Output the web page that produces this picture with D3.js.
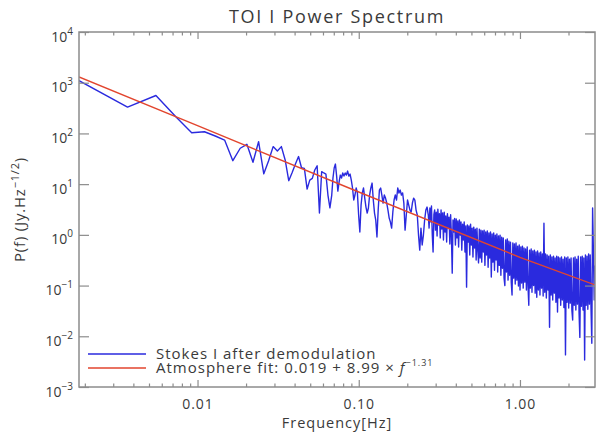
<!DOCTYPE html>
<html>
<head>
<meta charset="utf-8">
<script src="https://cdn.jsdelivr.net/npm/d3@7"></script>
<style>
  body { margin: 0; background: #fff; }
  svg text { font-family: "Open Sans", "DejaVu Sans", sans-serif; fill: #3a3a3a; }
</style>
</head>
<body>
<svg id="chart" width="596" height="433"></svg>
<script>
const width = 596
const height = 433
const margin = {top: 32, right: 1, bottom: 46, left: 79}

// frequency bins of the spectrum (Hz)
const binWidth = 0.00184
const freqMin = 0.00184
const freqMax = 2.92

// low frequency bins, one value per bin (k = 1..36)
const lowPower = [1100, 330, 560, 210, 103, 108, 89, 74, 29, 51, 61, 27, 69, 16, 29, 55, 45, 55,
  30, 11.7, 17, 25, 35, 21, 20.5, 8, 12, 13, 19, 23, 2.7, 17.6, 16.6, 15.8, 6.1, 3.4]

// middle part, read along a log spaced grid from 0.068 to 0.27 Hz
const midRange = [0.068, 0.27]
const midPower = [6.1, 13.2, 20.8, 24.9, 14.4, 7.3, 11, 15.1, 13.2, 16.6, 14.4, 16.6, 15.1, 18.1, 14.4, 15.8,
  12, 8.4, 4.86, 6.1, 8.4, 6.7, 2.46, 1.14, 3.87, 6.7, 8.4, 5.3, 3.53, 2.69, 3.38, 6.1, 8.4, 10.5, 4.86, 2.69,
  1.96, 0.905, 3.08, 7.65, 8.4, 6.1, 4.24, 6.1, 5.3, 4.24, 3.08, 2.14, 1.79, 1.36, 2.82, 4.86, 6.1, 4.86, 8.4,
  6.7, 7.65, 6.1, 6.7, 4.24, 1.24, 2.46, 4.86, 3.87, 3.08, 2.82, 4.24, 5.3, 4.86, 3.08, 2.46, 0.99, 0.5, 1.36,
  0.63, 0.99, 1.96, 3.08, 3.53, 2.46]

// high part, read along a log spaced grid from 0.27 to 2.92 Hz
const highRange = [0.27, 2.92]
const highPower = [2.5, 1.36, 3.4, 1.8, 3.7, 0.99, 0.46, 2.5, 3.1, 1.24, 2.8, 0.95, 3.2, 1.56, 2.6, 0.87,
  3.1, 1.3, 2.7, 0.79, 2.8, 1.14, 2.35, 0.72, 2.6, 1.36, 2.24, 0.66, 2.5, 0.95, 0.176, 1.96, 1.14, 2.1, 0.63,
  2.05, 0.87, 1.87, 0.575, 1.96, 0.99, 1.8, 0.5, 1.63, 0.79, 1.8, 0.46, 1.49, 0.093, 1.56, 0.72, 1.49, 0.4,
  1.63, 0.63, 1.36, 0.365, 1.42, 0.55, 1.3, 0.32, 1.36, 0.5, 0.28, 1.3, 0.35, 1.24, 0.29, 1.19, 0.46, 1.24,
  0.25, 1.14, 0.4, 1.19, 0.23, 1.09, 0.35, 1.14, 0.147, 1.04, 0.29, 1.09, 0.2, 0.99, 0.32, 1.04, 0.185, 0.95,
  0.25, 0.99, 0.16, 0.9, 0.22, 0.87, 0.14, 0.1, 0.79, 0.185, 0.83, 0.128, 0.75, 0.16, 0.72, 0.117, 0.065,
  0.69, 0.14, 0.66, 0.107, 0.69, 0.128, 0.6, 0.098, 0.63, 0.082, 0.575, 0.112, 0.6, 0.089, 0.55, 0.117,
  0.525, 0.082, 0.575, 0.098, 0.041, 0.5, 0.089, 0.525, 0.074, 0.48, 0.1, 0.5, 0.071, 0.46, 0.059, 0.48,
  0.082, 0.44, 0.065, 0.46, 0.089, 0.42, 0.062, 1.7, 0.074, 0.42, 0.057, 0.4, 0.082, 0.38, 0.015, 0.4,
  0.065, 0.365, 0.052, 0.38, 0.071, 0.35, 0.047, 0.38, 0.03, 0.365, 0.057, 0.35, 0.041, 0.365, 0.052, 0.33,
  0.037, 0.365, 0.0043, 0.35, 0.047, 0.365, 0.036, 0.33, 0.045, 0.35, 0.033, 0.021, 0.35, 0.041, 0.365,
  0.033, 0.33, 0.043, 0.38, 0.03, 0.0095, 0.365, 0.039, 0.38, 0.033, 0.35, 0.0034, 0.4, 0.041, 0.38, 0.034,
  0.42, 0.043, 0.4, 0.036, 0.0073, 3.4, 0.46, 0.052, 0.25]

// atmosphere fit read at a few frequencies
const fitFreq = [0.00184, 0.01, 0.1, 1, 2.92]
const fitPower = [1300, 142, 7.0, 0.36, 0.103]

const xMajor = [0.01, 0.1, 1]
const xMinor = [0.002, 0.003, 0.004, 0.005, 0.006, 0.007, 0.008, 0.009,
  0.02, 0.03, 0.04, 0.05, 0.06, 0.07, 0.08, 0.09,
  0.2, 0.3, 0.4, 0.5, 0.6, 0.7, 0.8, 0.9, 2]
const xLabels = ['0.01', '0.10', '1.00']
const yTicks = [1e-3, 1e-2, 1e-1, 1, 10, 100, 1e3, 1e4]

const legendLabels = ['Stokes I after demodulation', 'Atmosphere fit: 0.019 + 8.99 \u00d7 ']

const blue = '#2a2ade'
const red = '#e2452e'
const axisColor = '#8c8c8c'

function logGrid(range, n) {
  const r = Math.pow(range[1] / range[0], 1 / (n - 1))
  return d3.range(n).map(i => range[0] * Math.pow(r, i))
}

function buildSpectrum() {
  const pts = lowPower.map((p, i) => ({f: (i + 1) * binWidth, p: p}))
  const midF = logGrid(midRange, midPower.length)
  midPower.forEach((p, i) => pts.push({f: midF[i], p: p}))
  const highF = logGrid(highRange, highPower.length)
  highPower.forEach((p, i) => pts.push({f: highF[i], p: p}))
  return pts
}

const svg = d3.select('svg#chart')
const x = d3.scaleLog().domain([freqMin, freqMax]).range([margin.left, width - margin.right])
const y = d3.scaleLog().domain([1e-3, 1e4]).range([height - margin.bottom, margin.top])
const x0 = margin.left, x1 = width - margin.right
const y0 = height - margin.bottom, y1 = margin.top

svg.append('defs').append('clipPath').attr('id', 'plot-clip')
  .append('rect').attr('x', x0).attr('y', y1).attr('width', x1 - x0).attr('height', y0 - y1)

// data lines
const line = d3.line().x(d => x(d.f)).y(d => y(d.p))
const plot = svg.append('g').attr('clip-path', 'url(#plot-clip)')

plot.append('path')
  .datum(buildSpectrum())
  .attr('d', line)
  .attr('fill', 'none')
  .attr('stroke', blue)
  .attr('stroke-width', 1.4)
  .attr('stroke-linejoin', 'round')

plot.append('path')
  .datum(fitFreq.map((f, i) => ({f: f, p: fitPower[i]})))
  .attr('d', line)
  .attr('fill', 'none')
  .attr('stroke', red)
  .attr('stroke-width', 1.4)

// axes, IDL style: ticks pointing inwards on all four sides
function styleAxis(g) {
  g.select('.domain').remove()
  g.selectAll('line').attr('stroke', axisColor).attr('stroke-width', 1.2)
}

svg.append('g').attr('transform', `translate(0,${y0})`)
  .call(d3.axisBottom(x).tickValues(xMajor).tickSize(-7).tickPadding(12)
    .tickFormat((d, i) => xLabels[i]))
  .call(styleAxis)
  .call(g => g.selectAll('text').attr('font-size', 14).attr('letter-spacing', 1).attr('fill', '#3a3a3a'))

svg.append('g').attr('transform', `translate(0,${y0})`)
  .call(d3.axisBottom(x).tickValues(xMinor).tickSize(-3.5).tickFormat(''))
  .call(styleAxis)

svg.append('g').attr('transform', `translate(0,${y1})`)
  .call(d3.axisTop(x).tickValues(xMajor).tickSize(-7).tickFormat(''))
  .call(styleAxis)

svg.append('g').attr('transform', `translate(0,${y1})`)
  .call(d3.axisTop(x).tickValues(xMinor).tickSize(-3.5).tickFormat(''))
  .call(styleAxis)

const leftAxis = svg.append('g').attr('transform', `translate(${x0},0)`)
  .call(d3.axisLeft(y).tickValues(yTicks).tickSize(-10).tickPadding(6).tickFormat(''))
  .call(styleAxis)

leftAxis.selectAll('.tick text').each(function (d) {
  const t = d3.select(this)
    .attr('x', -6).attr('dy', null).attr('y', 9)
    .attr('font-size', 14).attr('text-anchor', 'end').attr('fill', '#3a3a3a')
  t.text('')
  t.append('tspan').text('10')
  t.append('tspan').attr('dy', -7).attr('font-size', 10)
    .text(Math.round(Math.log10(d)).toString().replace('-', '\u2212'))
})

svg.append('g').attr('transform', `translate(${x1},0)`)
  .call(d3.axisRight(y).tickValues(yTicks).tickSize(-10).tickFormat(''))
  .call(styleAxis)

svg.append('rect')
  .attr('x', x0).attr('y', y1).attr('width', x1 - x0).attr('height', y0 - y1)
  .attr('fill', 'none').attr('stroke', axisColor).attr('stroke-width', 1.5)

// titles
svg.append('text')
  .attr('x', (x0 + x1) / 2).attr('y', 23)
  .attr('text-anchor', 'middle').attr('font-size', 18).attr('letter-spacing', 1.7)
  .text('TOI I Power Spectrum')

svg.append('text')
  .attr('x', (x0 + x1) / 2).attr('y', 428)
  .attr('text-anchor', 'middle').attr('font-size', 14.5).attr('letter-spacing', 1)
  .text('Frequency[Hz]')

const yTitle = svg.append('text')
  .attr('transform', `translate(25,${(y0 + y1) / 2}) rotate(-90)`)
  .attr('text-anchor', 'middle').attr('font-size', 15).attr('letter-spacing', 0.8)
yTitle.append('tspan').text('P(f)  (Jy.Hz')
yTitle.append('tspan').attr('dy', -6).attr('font-size', 11).text('\u22121/2')
yTitle.append('tspan').attr('dy', 6).text(')')

// legend
const legend = svg.append('g')
const legendColors = [blue, red]
legendLabels.forEach((label, i) => {
  const ly = 354 + i * 14
  legend.append('line')
    .attr('x1', 88).attr('x2', 146).attr('y1', ly).attr('y2', ly)
    .attr('stroke', legendColors[i]).attr('stroke-width', 1.4)
  const t = legend.append('text')
    .attr('x', 156).attr('y', ly + 4.5).attr('font-size', 15).attr('letter-spacing', 1)
    .text(label)
  if (i === 1) {
    t.append('tspan').attr('font-style', 'italic').attr('font-size', 15).text('f')
    t.append('tspan').attr('dy', -7).attr('font-size', 9).text('\u22121.31')
  }
})
</script>
</body>
</html>
